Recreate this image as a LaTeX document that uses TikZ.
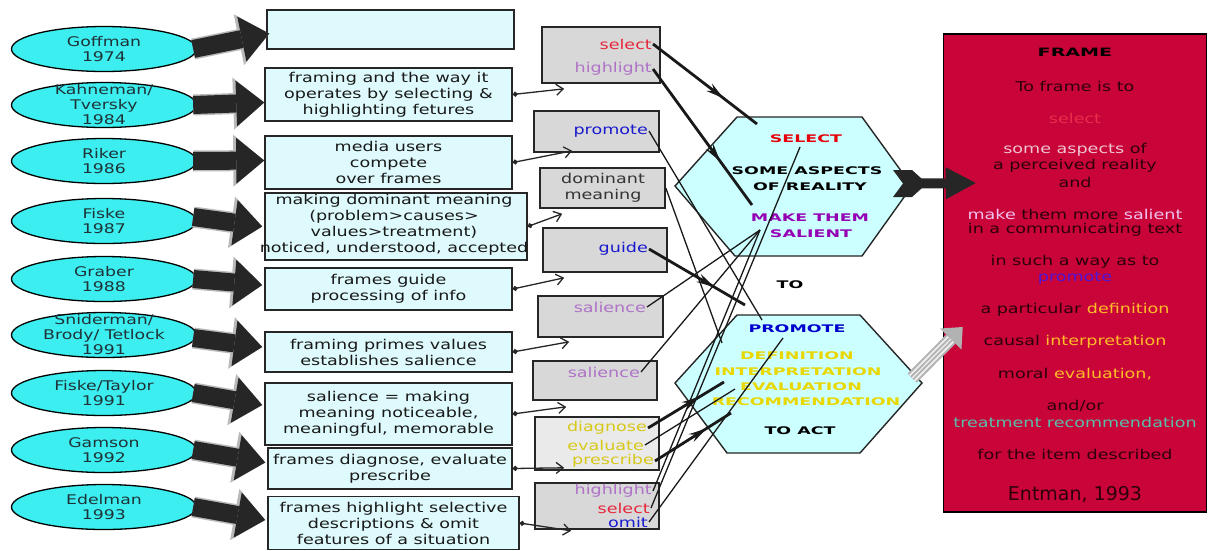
\documentclass[tikz,border=0pt]{standalone}
\usepackage{fontspec}
\setmainfont{DejaVu Sans}[FakeStretch=1.3]
\newfontfamily\hexfont{DejaVu Sans}[FakeStretch=1.66]
\newfontfamily\plainfont{DejaVu Sans}
\usetikzlibrary{shapes.geometric,arrows.meta,calc,decorations.markings}
\definecolor{ellcyan}{RGB}{60,238,240}
\definecolor{boxcyan}{RGB}{222,250,252}
\definecolor{boxgray}{RGB}{216,216,216}
\definecolor{boxgraylt}{RGB}{234,234,234}
\definecolor{hexcyan}{RGB}{204,255,255}
\definecolor{framered}{RGB}{200,4,56}
\definecolor{fdark}{RGB}{45,0,12}
\definecolor{fsel}{RGB}{235,45,75}
\definecolor{fpink}{RGB}{240,195,210}
\definecolor{fpinkb}{RGB}{240,195,240}
\definecolor{fblue}{RGB}{80,20,215}
\definecolor{forange}{RGB}{255,190,40}
\definecolor{fteal}{RGB}{90,190,170}
\definecolor{cred}{RGB}{230,40,60}
\definecolor{clav}{RGB}{175,115,200}
\definecolor{cblue}{RGB}{25,25,205}
\definecolor{cyel}{RGB}{215,200,25}
\definecolor{hred}{RGB}{230,0,10}
\definecolor{hpurp}{RGB}{150,0,180}
\definecolor{hblue}{RGB}{0,0,205}
\definecolor{hyel}{RGB}{232,215,0}
\definecolor{etextc}{RGB}{30,50,55}
\begin{document}
\begin{tikzpicture}[x=1pt,y=-1pt,
  ell/.style={ellipse, draw=black, line width=1.3pt, fill=ellcyan, minimum width=185pt, minimum height=45pt, inner sep=0pt},
  etext/.style={align=center, inner sep=0pt, text=etextc, font=\fontsize{13.3}{15}\selectfont},
  cbox/.style={rectangle, draw=black!85, line width=1.5pt, fill=boxcyan, inner sep=0pt, align=center, text=black!90, font=\fontsize{13.5}{16}\selectfont},
  gbox/.style={rectangle, draw=black!85, line width=1.6pt, fill=boxgray, inner sep=0pt},
  gtext/.style={anchor=east, inner sep=1pt, font=\fontsize{13.5}{16}\selectfont},
  htext/.style={inner sep=1pt, font=\hexfont\bfseries\fontsize{10.5}{12}\selectfont},
  ftext/.style={inner sep=0pt, text=fdark, font=\fontsize{13.5}{16}\selectfont},
  hexs/.style={draw=black!85, line width=1.4pt, fill=hexcyan},
  barrow/.style={line width=18pt, black!85, -{Triangle[length=28pt,width=46pt,line width=0pt]},
     preaction={draw=gray!55, line width=21pt, -{Triangle[length=31pt,width=52pt,line width=0pt]}}},
  sarrow/.style={line width=1.3pt, black!85, {Circle[length=5pt]}-{Straight Barb[length=7pt,width=11pt]}},
  conn/.style={line width=1.3pt, black!90},
  connthick/.style={line width=2.8pt, black!90, postaction={decorate, decoration={markings, mark=at position 0.68 with {\arrow{Stealth[length=18pt,width=9pt]}}}}}
]
\useasboundingbox (0,0) rectangle (1208,550);

% ---------- left ellipses ----------
\node[ell, label={[etext]center:Goffman\\1974}] (e1) at (104,49) {};
\node[ell, label={[etext]center:Kahneman/\\Tversky\\1984}] (e2) at (104,105) {};
\node[ell, label={[etext]center:Riker\\1986}] (e3) at (104,161) {};
\node[ell, label={[etext]center:Fiske\\1987}] (e4) at (104,221) {};
\node[ell, label={[etext]center:Graber\\1988}] (e5) at (104,279) {};
\node[ell, label={[etext]center:Sniderman/\\Brody/ Tetlock\\1991}] (e6) at (104,335) {};
\node[ell, label={[etext]center:Fiske/Taylor\\1991}] (e7) at (104,393) {};
\node[ell, label={[etext]center:Gamson\\1992}] (e8) at (104,450) {};
\node[ell, label={[etext]center:Edelman\\1993}] (e9) at (104,507) {};

% ---------- cyan boxes ----------
\node[cbox, minimum width=247pt, minimum height=39pt] (c1) at (390.5,29.5) {};
\node[cbox, minimum width=247pt, minimum height=53pt] (c2) at (388.5,94.5) {framing and the way it\\operates by selecting \&\\highlighting fetures};
\node[cbox, minimum width=247pt, minimum height=53pt] (c3) at (388.5,162.5) {media users\\compete\\over frames};
\node[cbox, minimum width=262pt, minimum height=67pt] (c4) at (396,226.5) {};
\node[align=center, inner sep=0pt, text=black!90, font=\fontsize{13.5}{16}\selectfont] (c4t) at (394,225) {making dominant meaning\\(problem>causes>\\values>treatment)\\noticed, understood, accepted};
\node[cbox, minimum width=247pt, minimum height=42pt] (c5) at (388.5,289) {frames guide\\processing of info};
\node[cbox, minimum width=247pt, minimum height=40pt] (c6) at (388.5,352) {framing primes values\\establishes salience};
\node[cbox, minimum width=247pt, minimum height=62pt] (c7) at (388.5,414) {salience = making\\meaning noticeable,\\meaningful, memorable};
\node[cbox, minimum width=244pt, minimum height=41pt] (c8) at (390,468.5) {frames diagnose, evaluate\\prescribe};
\node[cbox, minimum width=251pt, minimum height=53pt] (c9) at (393.5,523) {frames highlight selective\\descriptions \& omit\\features of a situation};

% ---------- block arrows ----------
\draw[barrow] ($(e1.east)+(-4,0)$) -- ($(c1.west)+(3,4)$);
\draw[barrow] ($(e2.east)+(-4,0)$) -- ($(c2.west)+(0,8)$);
\draw[barrow] ($(e3.east)+(-4,0)$) -- ($(c3.west)+(0,-2)$);
\draw[barrow] ($(e4.east)+(-4,-4)$) -- ($(c4.west)+(-2,0)$);
\draw[barrow] ($(e5.east)+(-4,0)$) -- ($(c5.west)+(-2,-4)$);
\draw[barrow] ($(e6.east)+(-4,3)$) -- ($(c6.west)+(-2,-5)$);
\draw[barrow] ($(e7.east)+(-4,0)$) -- ($(c7.west)+(-2,-9)$);
\draw[barrow] ($(e8.east)+(-4,0)$) -- ($(c8.west)+(-2,-6)$);
\draw[barrow] ($(e9.east)+(-4,0)$) -- ($(c9.west)+(-2,-3)$);

% ---------- gray boxes ----------
\node[gbox, minimum width=118pt, minimum height=56pt] (g1) at (601,55) {};
\node[gbox, minimum width=125pt, minimum height=41pt] (g2) at (596.5,131.5) {};
\node[gbox, minimum width=125pt, minimum height=40pt] (g3) at (602.5,188) {};
\node[gbox, minimum width=124pt, minimum height=44pt] (g4) at (605,250) {};
\node[gbox, minimum width=125pt, minimum height=41pt] (g5) at (600.5,316.5) {};
\node[gbox, minimum width=124pt, minimum height=39pt] (g6) at (595,380.5) {};
\node[gbox, fill=boxgraylt, minimum width=124pt, minimum height=53pt] (g7) at (597,443.5) {};
\node[gbox, minimum width=124pt, minimum height=46pt] (g8) at (597,506) {};

\node[gtext, text=cred] (g1s) at (653,44) {select};
\node[gtext, text=clav] (g1h) at (653,69) {highlight};
\node[gtext, text=cblue] (g2p) at (649,131) {promote};
\node[align=center, inner sep=0pt, text=black!80, font=\fontsize{13.5}{16}\selectfont] (g3t) at (603,188) {dominant\\meaning};
\node[gtext, text=cblue] (g4g) at (649,249) {guide};
\node[gtext, text=clav] (g5s) at (647,307) {salience};
\node[gtext, text=clav] (g6s) at (641,372) {salience};
\node[gtext, text=cyel] (g7d) at (648,428) {diagnose};
\node[gtext, text=cyel] (g7e) at (645,445) {evaluate};
\node[gtext, text=cyel] (g7p) at (655,461) {prescribe};
\node[gtext, text=clav] (g8h) at (653,491) {highlight};
\node[gtext, text=cred] (g8s) at (651,508) {select};
\node[gtext, text=cblue] (g8o) at (649,522) {omit};

% ---------- small arrows box -> gray box ----------
\draw[sarrow] (c2.east) -- ($(g1.south west)+(23,5)$);
\draw[sarrow] (c3.east) -- ($(g2.south west)+(39,-2)$);
\draw[sarrow] (c4.east) -- ($(g3.south west)+(23,5)$);
\draw[sarrow] (c5.east) -- ($(g4.south west)+(22,5)$);
\draw[sarrow] (c6.east) -- ($(g5.south west)+(32,4)$);
\draw[sarrow] (c7.east) -- ($(g6.south west)+(34,6)$);
\draw[sarrow] (c8.east) -- ($(g7.south west)+(30,-3)$);
\draw[sarrow] (c9.east) -- ($(g8.south west)+(37,1)$);

% ---------- hexagons ----------
\node[minimum width=237pt, minimum height=139pt, inner sep=0pt] (hex1) at (793.5,186.5) {};
\draw[hexs] (675,186) -- (737,117) -- (862,117) -- (912,186) -- (862,256) -- (735,256) -- cycle;
\node[minimum width=247pt, minimum height=138pt, inner sep=0pt] (hex2) at (798.5,384) {};
\draw[hexs] (675,383) -- (737,315) -- (860,315) -- (922,383) -- (860,453) -- (727,453) -- cycle;

\node[htext, text=hred] (h1a) at (806,139) {SELECT};
\node[htext, text=black] (h1b) at (807,171) {SOME ASPECTS};
\node[htext, text=black] (h1c) at (810,187) {OF REALITY};
\node[htext, text=hpurp] (h1d) at (810,218) {MAKE THEM};
\node[htext, text=hpurp] (h1e) at (811,234) {SALIENT};
\node[htext, text=black] (to) at (790,285) {TO};
\node[htext, text=hblue] (h2a) at (797,329) {PROMOTE};
\node[htext, text=hyel] (h2b) at (797,356) {DEFINITION};
\node[htext, text=hyel] (h2c) at (798,372) {INTERPRETATION};
\node[htext, text=hyel] (h2d) at (801,387) {EVALUATION};
\node[htext, text=hyel] (h2e) at (806,402) {RECOMMENDATION};
\node[htext, text=black] (toact) at (800,431) {TO ACT};

% ---------- connector end points ----------
\coordinate (tSelTop) at (757,124);
\coordinate (tOf) at (752,205);
\coordinate (tSal) at (760,230);
\coordinate (tSelU) at (800,147);
\coordinate (tProm) at (762,320);
\coordinate (tDom) at (722,343);
\coordinate (tGuide) at (745,305);
\coordinate (tDef) at (724,382);
\coordinate (tEva) at (735,389);
\coordinate (tRec) at (731,413);
\coordinate (tOmit) at (783,338);

\draw[connthick] (g1s.east) -- (tSelTop);
\draw[connthick] (g1h.east) -- (tOf);
\draw[conn] (g2p.east) -- (tProm);
\draw[conn] (g3.east) -- (tDom);
\draw[connthick] (g4g.east) -- (tGuide);
\draw[conn] (g5s.east) -- (tSal);
\draw[conn] (g6s.east) -- (tSal);
\draw[connthick] (g7d.east) -- (tDef);
\draw[conn] (g7e.east) -- (tEva);
\draw[connthick] (g7p.east) -- (tRec);
\draw[conn] (g8h.east) -- (tSal);
\draw[conn] (g8s.east) -- (tSelU);
\draw[conn] (g8o.east) -- (tOmit);

% ---------- frame box ----------
\node[rectangle, draw=black, line width=1.5pt, fill=framered, minimum width=263pt, minimum height=478pt, inner sep=0pt] (frame) at (1075,273) {};
\node[ftext, text=black, font=\hexfont\bfseries\fontsize{11.5}{13}\selectfont] (f0) at (1075,52) {FRAME};
\node[ftext] (f1) at (1075,86) {To frame is to};
\node[ftext, text=fsel] (f2) at (1075,118) {select};
\node[ftext] (f3) at (1075,150) {\textcolor{fpink}{some aspects} of};
\node[ftext] (f4) at (1075,166) {a perceived reality};
\node[ftext] (f5) at (1075,182) {and};
\node[ftext] (f6) at (1075,214) {\textcolor{fpinkb}{make} them more \textcolor{fpinkb}{salient}};
\node[ftext] (f7) at (1075,230) {in a communicating text};
\node[ftext] (f8) at (1075,262) {in such a way as to};
\node[ftext, text=fblue] (f9) at (1075,278) {promote};
\node[ftext] (f10) at (1075,310) {a particular \textcolor{forange}{definition}};
\node[ftext] (f11) at (1075,342) {causal \textcolor{forange}{interpretation}};
\node[ftext] (f12) at (1075,374) {moral \textcolor{forange}{evaluation,}};
\node[ftext] (f13) at (1075,406) {and/or};
\node[ftext, text=fteal] (f14) at (1075,422) {treatment recommendation};
\node[ftext] (f15) at (1075,454) {for the item described};
\node[ftext, font=\plainfont\fontsize{19}{22}\selectfont] (f16) at (1075,495) {Entman, 1993};

% ---------- hexagon -> frame arrows ----------
\fill[black!85] (893,170) -- (912,170) -- (922,179) -- (922,188) -- (912,197) -- (893,197) -- (903,183.5) -- cycle;
\draw[line width=10pt, black!85, -{Triangle[length=30pt,width=32pt,line width=0pt]}] ($(hex1.east)+(2,-3)$) -- ($(frame.west)+(33,-90)$);

\draw[line width=13pt, gray!60, -{Triangle[length=17pt,width=30pt,line width=0pt]}] ($(hex2.east)+(-10,-6)$) -- ($(frame.west)+(20,54)$);
\draw[line width=9pt, gray!15, shorten >=17pt] ($(hex2.east)+(-10,-6)$) -- ($(frame.west)+(20,54)$);
\draw[line width=5pt, gray!60, shorten >=17pt] ($(hex2.east)+(-10,-6)$) -- ($(frame.west)+(20,54)$);
\draw[line width=1.2pt, gray!10, shorten >=17pt] ($(hex2.east)+(-10,-6)$) -- ($(frame.west)+(20,54)$);
\end{tikzpicture}
\end{document}
